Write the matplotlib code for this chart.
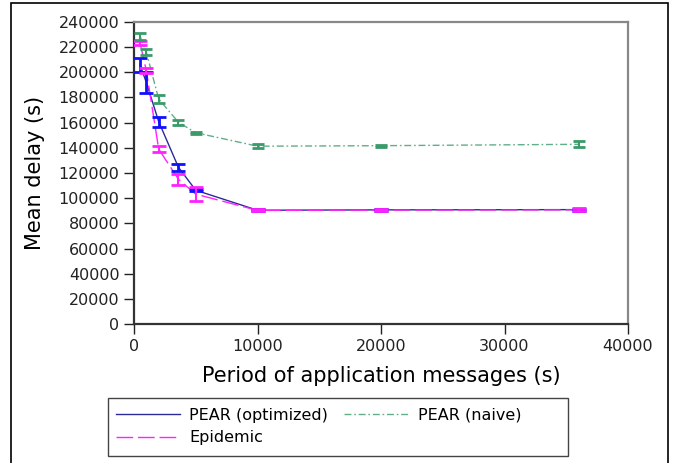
import numpy as np
import matplotlib.pyplot as plt
from matplotlib.patches import Rectangle

# period of application messages (s)
period = [500, 1000, 2000, 3600, 5000, 10000, 20000, 36000]

# PEAR (optimized)
opt_mean = [205800, 191900, 160800, 124500, 106300, 90400, 90700, 90900]
opt_err = [5300, 8600, 4000, 2600, 1000, 700, 500, 800]

# Epidemic
epi_mean = [223000, 201300, 139000, 115000, 103200, 90300, 90500, 90700]
epi_err = [1500, 2000, 2300, 4200, 5600, 800, 600, 1200]

# PEAR (naive)
nai_mean = [228300, 216000, 178800, 160300, 152000, 141300, 141700, 142800]
nai_err = [2800, 2200, 3300, 1800, 800, 1800, 800, 2300]

fig = plt.figure(figsize=(6.74, 4.63), dpi=100)
ax = fig.add_axes([0.1988, 0.3002, 0.733, 0.6523])

blue_line = '#2a2a9a'
blue_err = '#1010ff'
mag = '#ff22ff'
green = '#3a9a6a'

l1, = ax.plot(period, opt_mean, color=blue_line, lw=1.0, zorder=3)
ax.errorbar(period, opt_mean, yerr=opt_err, fmt='none', ecolor=blue_err,
            elinewidth=2, capsize=5, capthick=2, zorder=4)

l2, = ax.plot(period, epi_mean, color=mag, lw=1.0, dashes=(12, 3.5), zorder=3)
ax.errorbar(period, epi_mean, yerr=epi_err, fmt='none', ecolor=mag,
            elinewidth=1.5, capsize=5, capthick=2, zorder=4)

l3, = ax.plot(period, nai_mean, color=green, lw=1.0, alpha=0.8,
              dashes=(5, 2, 1.2, 2), zorder=3)
ax.errorbar(period, nai_mean, yerr=nai_err, fmt='none', ecolor=green,
            elinewidth=1.5, capsize=4, capthick=2, zorder=4)

ax.set_xlim(0, 40000)
ax.set_ylim(0, 240000)
ax.set_xticks(np.arange(0, 40001, 10000))
ax.set_yticks(np.arange(0, 240001, 20000))
ax.tick_params(direction='out', length=7, width=1, labelsize=11.5,
               colors='#222222', top=False, right=False)
for s in ['left', 'bottom']:
    ax.spines[s].set_color('#333333')
    ax.spines[s].set_linewidth(1.6)
for s in ['top', 'right']:
    ax.spines[s].set_color('#888888')
    ax.spines[s].set_linewidth(1.6)

ax.set_xlabel('Period of application messages (s)', fontsize=15, labelpad=9)
ax.set_ylabel('Mean delay (s)', fontsize=15, labelpad=10)

# legend without its own frame, box drawn separately to match width
leg = fig.legend([l1, l2, l3], ['PEAR (optimized)', 'Epidemic', 'PEAR (naive)'],
                 ncol=2, loc='upper left',
                 bbox_to_anchor=(108/674, 1-400/463),
                 fontsize=11.5, handlelength=4.0, handletextpad=0.6,
                 frameon=False, borderaxespad=0, borderpad=0.5,
                 columnspacing=1.0, labelspacing=0.45)
fig.patches.append(Rectangle((108/674, 1-456/463), 460/674, 58/463,
                             transform=fig.transFigure, fill=False,
                             edgecolor='#444444', lw=1.0))

# outer frame around the figure
fig.patches.append(Rectangle((11/674, -0.01), 657/674, 1-3/463+0.01,
                             transform=fig.transFigure, fill=False,
                             edgecolor='black', lw=1.2))

fig.savefig('out.png', dpi=100)
